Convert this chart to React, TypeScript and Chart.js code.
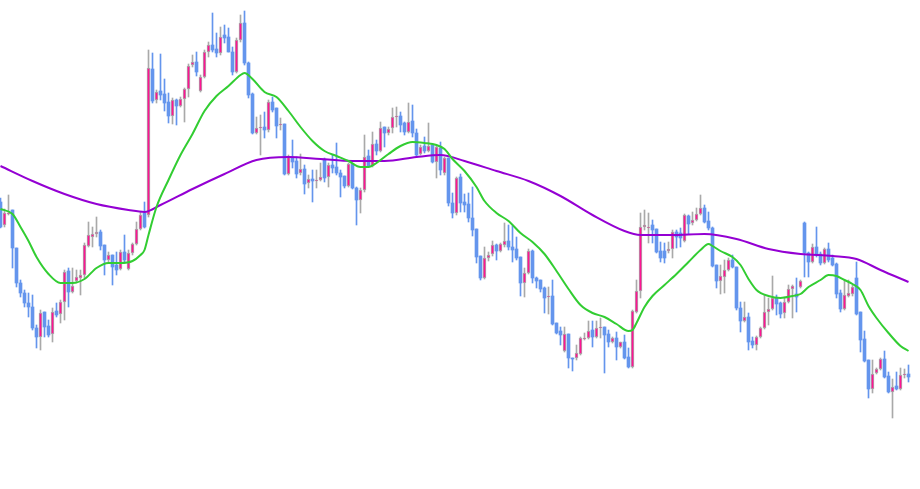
import { useEffect, useRef } from 'react';
import Chart from 'chart.js/auto';

// OHLC per candle, oldest first
const opens = [
  1.2298, 1.2275, 1.2286, 1.229, 1.2252, 1.2217, 1.2207, 1.2197, 1.2193, 1.2172,
  1.2163, 1.2188, 1.2174, 1.2166, 1.2189, 1.2186, 1.2198, 1.2229, 1.2208, 1.2219,
  1.2222, 1.2225, 1.2254, 1.2263, 1.2266, 1.2268, 1.2255, 1.224, 1.2245, 1.2235,
  1.2231, 1.2248, 1.2231, 1.2247, 1.2256, 1.2271, 1.2287, 1.2285, 1.2431, 1.24,
  1.2409, 1.2406, 1.2398, 1.2384, 1.24, 1.2394, 1.2401, 1.2411, 1.2435, 1.2438,
  1.2409, 1.2423, 1.2448, 1.2455, 1.2451, 1.2447, 1.2465, 1.2463, 1.2448, 1.2428,
  1.246, 1.2477, 1.2437, 1.2406, 1.2367, 1.2372, 1.2373, 1.237, 1.2398, 1.2392,
  1.2375, 1.2376, 1.2326, 1.2343, 1.2339, 1.2327, 1.2331, 1.2317, 1.2321, 1.2319,
  1.232, 1.234, 1.2323, 1.2335, 1.2333, 1.2327, 1.2324, 1.2314, 1.2336, 1.2312,
  1.23, 1.231, 1.2344, 1.2334, 1.2356, 1.2349, 1.2373, 1.2367, 1.2372, 1.2383,
  1.2384, 1.2377, 1.2368, 1.2379, 1.2367, 1.2346, 1.2354, 1.2349, 1.2355, 1.2338,
  1.2352, 1.2327, 1.2342, 1.2297, 1.2287, 1.2323, 1.2298, 1.2296, 1.2282, 1.2271,
  1.2244, 1.2222, 1.2242, 1.2246, 1.2255, 1.2249, 1.2255, 1.2259, 1.2253, 1.2251,
  1.2243, 1.2217, 1.2227, 1.2249, 1.2222, 1.222, 1.2212, 1.2203, 1.2204, 1.2177,
  1.2169, 1.2149, 1.2166, 1.2142, 1.2142, 1.2146, 1.2161, 1.2162, 1.217, 1.2163,
  1.2172, 1.2173, 1.2166, 1.2158, 1.2162, 1.2153, 1.2158, 1.2143, 1.2133, 1.2188,
  1.2209, 1.2273, 1.2272, 1.2275, 1.2271, 1.2249, 1.2249, 1.2249, 1.2251, 1.2268,
  1.2267, 1.2259, 1.2284, 1.2277, 1.228, 1.2286, 1.2292, 1.2279, 1.2272, 1.2235,
  1.2219, 1.2223, 1.223, 1.224, 1.2233, 1.2192, 1.2179, 1.2183, 1.2159, 1.2155,
  1.2163, 1.2172, 1.2188, 1.2191, 1.2202, 1.2197, 1.2187, 1.2198, 1.2211, 1.2206,
  1.2213, 1.2277, 1.2247, 1.2238, 1.2253, 1.2246, 1.2237, 1.2251, 1.2242, 1.2236,
  1.2207, 1.2191, 1.2204, 1.2206, 1.2222, 1.2188, 1.2161, 1.214, 1.2111, 1.2127,
  1.2131, 1.2141, 1.2124, 1.2108, 1.2114, 1.2111, 1.2125, 1.2126,
];
const highs = [
  1.2302, 1.2291, 1.2305, 1.229, 1.2252, 1.222, 1.221, 1.2207, 1.2205, 1.2175,
  1.219, 1.2188, 1.218, 1.2192, 1.2197, 1.22, 1.223, 1.2232, 1.2232, 1.223,
  1.223, 1.2257, 1.2278, 1.2273, 1.2283, 1.227, 1.2255, 1.2248, 1.2245, 1.2248,
  1.225, 1.2265, 1.225, 1.2257, 1.2278, 1.2288, 1.2298, 1.245, 1.2447, 1.241,
  1.2446, 1.2421, 1.2407, 1.2402, 1.2401, 1.2403, 1.2412, 1.2436, 1.2445, 1.2448,
  1.2425, 1.245, 1.2458, 1.2487, 1.2467, 1.2473, 1.2475, 1.2472, 1.2453, 1.2462,
  1.2485, 1.2489, 1.2438, 1.2407, 1.2383, 1.2385, 1.2388, 1.24, 1.2403, 1.2392,
  1.2382, 1.2376, 1.2345, 1.236, 1.2343, 1.2346, 1.2335, 1.2325, 1.233, 1.233,
  1.2337, 1.2342, 1.2337, 1.2345, 1.2357, 1.233, 1.2324, 1.2337, 1.2336, 1.2313,
  1.2312, 1.2365, 1.235, 1.2368, 1.236, 1.2378, 1.2373, 1.2373, 1.2392, 1.2393,
  1.2388, 1.2378, 1.2397, 1.2395, 1.2371, 1.2355, 1.2363, 1.2377, 1.2355, 1.2355,
  1.2358, 1.2343, 1.2342, 1.2307, 1.2323, 1.2326, 1.2306, 1.2307, 1.2313, 1.2271,
  1.2244, 1.2253, 1.2248, 1.2259, 1.2256, 1.2257, 1.2277, 1.2275, 1.2275, 1.2263,
  1.2243, 1.2232, 1.2251, 1.225, 1.2223, 1.222, 1.2213, 1.2213, 1.222, 1.2177,
  1.2173, 1.2173, 1.2166, 1.2142, 1.2155, 1.2163, 1.2167, 1.2179, 1.2179, 1.2179,
  1.2182, 1.2173, 1.217, 1.2163, 1.2168, 1.2158, 1.2165, 1.2152, 1.219, 1.222,
  1.2287, 1.229, 1.2287, 1.228, 1.2271, 1.2258, 1.2257, 1.2258, 1.227, 1.227,
  1.2272, 1.2286, 1.2285, 1.2288, 1.2292, 1.2305, 1.2295, 1.2288, 1.2273, 1.2235,
  1.2235, 1.224, 1.2242, 1.2245, 1.2233, 1.2198, 1.2198, 1.2187, 1.2163, 1.2164,
  1.2173, 1.2205, 1.2202, 1.2224, 1.2205, 1.2198, 1.2203, 1.2215, 1.2215, 1.2222,
  1.222, 1.2278, 1.2248, 1.2256, 1.2273, 1.2248, 1.2252, 1.2257, 1.2245, 1.2237,
  1.221, 1.222, 1.222, 1.2215, 1.2238, 1.2188, 1.2169, 1.214, 1.214, 1.2132,
  1.2142, 1.2149, 1.2128, 1.2121, 1.2128, 1.2132, 1.2131, 1.2135,
];
const lows = [
  1.2272, 1.2273, 1.2285, 1.2232, 1.2213, 1.2203, 1.2193, 1.2183, 1.217, 1.2152,
  1.215, 1.2163, 1.2163, 1.2158, 1.2183, 1.2177, 1.218, 1.2193, 1.2207, 1.2217,
  1.2205, 1.2222, 1.2253, 1.2253, 1.2263, 1.225, 1.2225, 1.2238, 1.2215, 1.2225,
  1.223, 1.2238, 1.223, 1.2245, 1.2255, 1.227, 1.2272, 1.2283, 1.2397, 1.2397,
  1.24, 1.2389, 1.2377, 1.2376, 1.2375, 1.2393, 1.2378, 1.2403, 1.2433, 1.2424,
  1.2408, 1.2422, 1.2443, 1.2448, 1.2443, 1.2445, 1.2457, 1.2448, 1.2425, 1.2427,
  1.2458, 1.2435, 1.2402, 1.2366, 1.2366, 1.2345, 1.2362, 1.2368, 1.2388, 1.2362,
  1.237, 1.2325, 1.2325, 1.2332, 1.2322, 1.2325, 1.2306, 1.2312, 1.2298, 1.2312,
  1.2319, 1.2318, 1.2313, 1.2327, 1.2325, 1.2303, 1.2312, 1.2313, 1.2311, 1.2275,
  1.2287, 1.2308, 1.2333, 1.2333, 1.2345, 1.2348, 1.2353, 1.2365, 1.2367, 1.2373,
  1.2368, 1.2365, 1.2367, 1.2363, 1.2344, 1.2345, 1.2347, 1.2348, 1.2337, 1.2322,
  1.2325, 1.2325, 1.2294, 1.2282, 1.2285, 1.2288, 1.2288, 1.2278, 1.2264, 1.2237,
  1.222, 1.2221, 1.2239, 1.2244, 1.224, 1.2248, 1.2253, 1.225, 1.2238, 1.224,
  1.2204, 1.2203, 1.2226, 1.2217, 1.2212, 1.2208, 1.2187, 1.2186, 1.2175, 1.2166,
  1.2155, 1.2148, 1.2132, 1.2129, 1.214, 1.2145, 1.216, 1.2161, 1.2153, 1.2162,
  1.2162, 1.2127, 1.2153, 1.2157, 1.214, 1.2152, 1.2141, 1.2132, 1.2132, 1.2187,
  1.2202, 1.227, 1.2257, 1.2257, 1.2247, 1.2238, 1.2237, 1.2247, 1.2242, 1.2252,
  1.2253, 1.2258, 1.2266, 1.2275, 1.2279, 1.2285, 1.2277, 1.227, 1.2233, 1.2212,
  1.2206, 1.2207, 1.2229, 1.2232, 1.219, 1.2168, 1.2178, 1.215, 1.2152, 1.215,
  1.2162, 1.2171, 1.2175, 1.219, 1.2185, 1.2182, 1.2182, 1.2197, 1.2182, 1.2188,
  1.2212, 1.2223, 1.2223, 1.2237, 1.2243, 1.2235, 1.2236, 1.2238, 1.2234, 1.2202,
  1.2188, 1.219, 1.2203, 1.2204, 1.2185, 1.2148, 1.2138, 1.2102, 1.2107, 1.2126,
  1.213, 1.2122, 1.2107, 1.2082, 1.211, 1.211, 1.2122, 1.2118,
];
const closes = [
  1.2273, 1.2287, 1.2287, 1.2252, 1.2217, 1.2207, 1.2197, 1.2193, 1.2172, 1.2163,
  1.2187, 1.2173, 1.2165, 1.2188, 1.2185, 1.2198, 1.2228, 1.2208, 1.2214, 1.2223,
  1.2225, 1.2255, 1.2265, 1.2266, 1.2268, 1.2254, 1.224, 1.2245, 1.2233, 1.223,
  1.2248, 1.224, 1.2247, 1.2256, 1.2271, 1.2285, 1.2273, 1.2432, 1.2399, 1.2408,
  1.2405, 1.2397, 1.2384, 1.24, 1.2394, 1.2401, 1.2411, 1.2434, 1.2438, 1.2428,
  1.2423, 1.2448, 1.2455, 1.245, 1.2447, 1.2463, 1.2462, 1.2448, 1.2428, 1.246,
  1.2477, 1.2437, 1.2405, 1.2367, 1.2372, 1.2373, 1.237, 1.2398, 1.239, 1.2374,
  1.2376, 1.2326, 1.2343, 1.2338, 1.2326, 1.2331, 1.2316, 1.2321, 1.2319, 1.232,
  1.2323, 1.2322, 1.2335, 1.2332, 1.2327, 1.2323, 1.2314, 1.2336, 1.2312, 1.23,
  1.231, 1.2343, 1.2334, 1.2356, 1.2349, 1.2372, 1.2367, 1.2371, 1.2383, 1.2384,
  1.2375, 1.2368, 1.2378, 1.2367, 1.2345, 1.2353, 1.2349, 1.2354, 1.2338, 1.2353,
  1.233, 1.2342, 1.2297, 1.2287, 1.2322, 1.2297, 1.2295, 1.2282, 1.227, 1.2243,
  1.2222, 1.2242, 1.2245, 1.2255, 1.2249, 1.2256, 1.2259, 1.2253, 1.225, 1.2242,
  1.2217, 1.2227, 1.2249, 1.2222, 1.2219, 1.2211, 1.2202, 1.2204, 1.2176, 1.2167,
  1.2165, 1.2166, 1.2142, 1.2141, 1.2147, 1.2162, 1.2162, 1.2169, 1.2163, 1.2172,
  1.2173, 1.2165, 1.2158, 1.2162, 1.2153, 1.2158, 1.2142, 1.2133, 1.2189, 1.2209,
  1.2273, 1.2275, 1.2273, 1.227, 1.2248, 1.2242, 1.2242, 1.2251, 1.2268, 1.2263,
  1.2262, 1.2285, 1.2276, 1.228, 1.2286, 1.2292, 1.2278, 1.2272, 1.2234, 1.2219,
  1.2224, 1.223, 1.224, 1.2233, 1.2192, 1.2179, 1.2183, 1.2158, 1.2155, 1.2163,
  1.2172, 1.2188, 1.2191, 1.2202, 1.2196, 1.2186, 1.2198, 1.2211, 1.2214, 1.2203,
  1.2219, 1.2247, 1.2238, 1.2253, 1.2245, 1.2237, 1.2251, 1.224, 1.2235, 1.2206,
  1.2191, 1.2205, 1.2207, 1.2213, 1.2186, 1.216, 1.2139, 1.2111, 1.2126, 1.2131,
  1.2141, 1.2123, 1.2108, 1.2113, 1.2111, 1.2125, 1.2126, 1.2123,
];

// moving averages, read at selected candle indices
const fastMaIdx = [
  0, 3, 5, 7, 9, 12, 15, 18, 21, 24, 27, 30, 33, 35, 36, 37, 39, 42, 45, 48,
  51, 54, 57, 60, 61, 63, 66, 69, 72, 75, 78, 81, 84, 87, 90, 92, 94, 97, 100, 103,
  106, 109, 111, 113, 116, 119, 121, 124, 127, 130, 133, 136, 139, 142, 145, 148, 151, 154, 157, 158,
  159, 161, 163, 166, 169, 172, 175, 177, 178, 180, 183, 185, 187, 189, 192, 195, 198, 200, 202, 205,
  207, 209, 211, 213, 215, 217, 219, 222, 225, 227,
];
const fastMa = [
  1.2291, 1.2286, 1.2273, 1.2259, 1.2243, 1.2226, 1.2217, 1.2217, 1.2221, 1.2232,
  1.2237, 1.2237, 1.2239, 1.2245, 1.225, 1.2265, 1.2293, 1.232, 1.2345, 1.2366,
  1.2389, 1.2404, 1.2414, 1.2425, 1.2427, 1.2421, 1.2408, 1.2403, 1.2389, 1.2373,
  1.2359, 1.2349, 1.2344, 1.2339, 1.2333, 1.2333, 1.2337, 1.2346, 1.2354, 1.2358,
  1.2357, 1.2355, 1.2351, 1.2341, 1.2329, 1.2313, 1.2299, 1.2287, 1.2279, 1.2267,
  1.2258, 1.2246, 1.2229, 1.2211, 1.2195, 1.2187, 1.2183, 1.2176, 1.2169, 1.217,
  1.2177, 1.2193, 1.2204, 1.2215, 1.2226, 1.2238, 1.225, 1.2256, 1.2254, 1.2249,
  1.2243, 1.2235, 1.2221, 1.221, 1.2204, 1.2202, 1.2204, 1.2206, 1.2213, 1.222,
  1.2225, 1.2224, 1.222, 1.2216, 1.221, 1.2194, 1.2182, 1.2167, 1.2154, 1.2149,
];
const slowMaIdx = [
  0, 8, 16, 24, 32, 36, 40, 48, 56, 64, 72, 80, 88, 96, 104, 110,
  116, 124, 132, 140, 148, 156, 160, 168, 176, 184, 192, 200, 208, 214, 220, 227,
];
const slowMa = [
  1.2334, 1.2319, 1.2306, 1.2296, 1.229, 1.2288, 1.2295, 1.2311, 1.2326, 1.234, 1.2343,
  1.2341, 1.2339, 1.2339, 1.2343, 1.2345, 1.2339, 1.2329, 1.2319, 1.2304, 1.2285,
  1.2269, 1.2265, 1.2265, 1.2266, 1.2261, 1.2251, 1.2246, 1.2244, 1.2241, 1.223, 1.2218,
];

const BULL_FILL = '#ff1493';
const BULL_EDGE = '#a9a9a9';
const BEAR = '#6495ed';

export default function App() {
  const canvasRef = useRef<HTMLCanvasElement>(null);

  useEffect(() => {
    document.body.style.margin = '0';
    const ctx = canvasRef.current?.getContext('2d');
    if (!ctx) return;

    const idx = opens.map((_, i) => i);
    const up = opens.map((o, i) => closes[i] > o);

    const chart = new Chart(ctx, {
      type: 'bar',
      data: {
        datasets: [
          {
            type: 'line',
            label: 'MA fast',
            data: fastMaIdx.map((x, k) => ({ x, y: fastMa[k] })),
            borderColor: '#32cd32',
            borderWidth: 2,
            pointRadius: 0,
            cubicInterpolationMode: 'monotone',
            order: 0,
          },
          {
            type: 'line',
            label: 'MA slow',
            data: slowMaIdx.map((x, k) => ({ x, y: slowMa[k] })),
            borderColor: '#9400d3',
            borderWidth: 2,
            pointRadius: 0,
            cubicInterpolationMode: 'monotone',
            order: 0,
          },
          {
            label: 'body',
            data: idx.map((i) => ({ x: i, y: [opens[i], closes[i]] })),
            backgroundColor: up.map((u) => (u ? BULL_FILL : BEAR)),
            borderColor: up.map((u) => (u ? BULL_EDGE : BEAR)),
            borderWidth: up.map((u) => (u ? 1 : 0)),
            borderSkipped: false,
            barThickness: 3,
            grouped: false,
            order: 1,
          },
          {
            label: 'wick',
            data: idx.map((i) => ({ x: i, y: [lows[i], highs[i]] })),
            backgroundColor: up.map((u) => (u ? BULL_EDGE : BEAR)),
            barThickness: 1,
            grouped: false,
            order: 2,
          },
        ],
      } as any,
      options: {
        animation: false,
        responsive: true,
        maintainAspectRatio: false,
        layout: { padding: 0 },
        plugins: {
          legend: { display: false },
          tooltip: { enabled: false },
        },
        scales: {
          x: { type: 'linear', min: -0.125, max: 229.875, offset: false, display: false },
          y: { min: 1.2011, max: 1.25, display: false },
        },
      },
    });

    return () => chart.destroy();
  }, []);

  return (
    <div style={{ position: 'absolute', left: 0, top: 0, width: 920, height: 489, background: '#fff' }}>
      <canvas ref={canvasRef}></canvas>
    </div>
  );
}
